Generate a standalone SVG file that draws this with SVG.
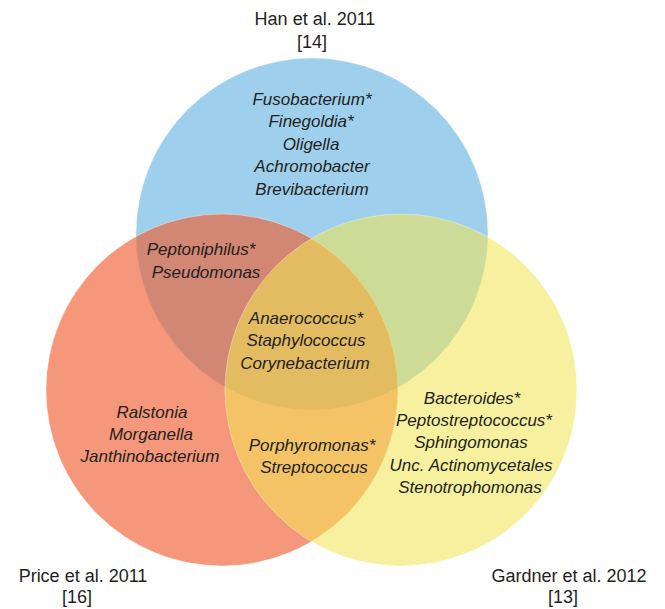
<svg xmlns="http://www.w3.org/2000/svg" width="665" height="609" viewBox="0 0 665 609">
<style>
.c{stroke:#ffffff;stroke-opacity:0.35;stroke-width:1}
.sp{font-family:"Liberation Sans",Arial,Helvetica,sans-serif;font-style:italic;font-size:17px;fill:#231f20;text-anchor:middle}
.lb{font-family:"Liberation Sans",Arial,Helvetica,sans-serif;font-size:18px;fill:#231f20;text-anchor:middle}
</style>
<rect width="665" height="609" fill="#ffffff"/>
<g id="set-han">
<circle class="c" cx="312" cy="234" r="176" fill="#9ecfec"/>
</g>
<g id="set-price">
<circle class="c" cx="222" cy="390" r="176" fill="rgb(239,92,48)" fill-opacity="0.64"/>
</g>
<g id="set-gardner">
<circle class="c" cx="401" cy="390" r="176" fill="rgb(241,230,84)" fill-opacity="0.56"/>
</g>
<g id="connectors"></g>
<g id="label-han">
<text class="lb" x="315" y="25">Han et al. 2011</text>
<text class="lb" x="312" y="48">[14]</text>
</g>
<g id="label-price">
<text class="lb" x="83" y="582">Price et al. 2011</text>
<text class="lb" x="77" y="603">[16]</text>
</g>
<g id="label-gardner">
<text class="lb" x="569" y="582">Gardner et al. 2012</text>
<text class="lb" x="563" y="603">[13]</text>
</g>
<g id="region-han-only">
<text class="sp" x="312" y="105">Fusobacterium*</text>
<text class="sp" x="311" y="127">Finegoldia*</text>
<text class="sp" x="311" y="150">Oligella</text>
<text class="sp" x="312" y="172">Achromobacter</text>
<text class="sp" x="312" y="195">Brevibacterium</text>
</g>
<g id="region-han-price">
<text class="sp" x="201" y="255">Peptoniphilus*</text>
<text class="sp" x="206" y="278">Pseudomonas</text>
</g>
<g id="region-all">
<text class="sp" x="306" y="324">Anaerococcus*</text>
<text class="sp" x="306" y="346">Staphylococcus</text>
<text class="sp" x="305" y="369">Corynebacterium</text>
</g>
<g id="region-price-only">
<text class="sp" x="152" y="418">Ralstonia</text>
<text class="sp" x="151" y="440">Morganella</text>
<text class="sp" x="150" y="462">Janthinobacterium</text>
</g>
<g id="region-price-gardner">
<text class="sp" x="312" y="451">Porphyromonas*</text>
<text class="sp" x="314" y="473">Streptococcus</text>
</g>
<g id="region-gardner-only">
<text class="sp" x="472" y="404">Bacteroides*</text>
<text class="sp" x="474" y="426">Peptostreptococcus*</text>
<text class="sp" x="471" y="448">Sphingomonas</text>
<text class="sp" x="471" y="471">Unc. Actinomycetales</text>
<text class="sp" x="470" y="493">Stenotrophomonas</text>
</g>
</svg>
